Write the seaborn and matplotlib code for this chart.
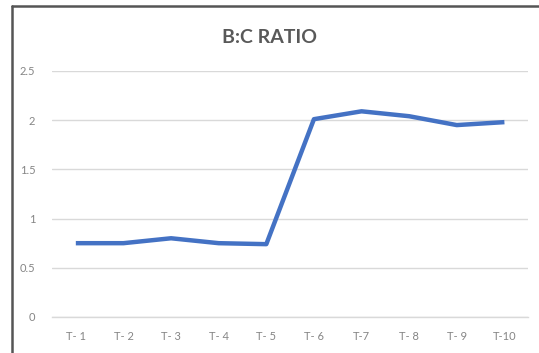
import matplotlib
matplotlib.use("Agg")
import matplotlib.pyplot as plt
import seaborn as sns
import pandas as pd
from matplotlib.lines import Line2D

# B:C ratio per trial
trials = ["T- 1", "T- 2", "T- 3", "T- 4", "T- 5", "T- 6", "T-7", "T- 8", "T- 9", "T-10"]
ratio = [0.75, 0.75, 0.80, 0.75, 0.74, 2.01, 2.09, 2.04, 1.95, 1.98]
y_ticks = [0, 0.5, 1, 1.5, 2, 2.5]
y_tick_labels = ["0", "0.5", "1", "1.5", "2", "2.5"]

df = pd.DataFrame({"trial": trials, "ratio": ratio})

sns.set_theme(style="white")
plt.rcParams["font.family"] = ["Lato", "DejaVu Sans"]

fig = plt.figure(figsize=(5.39, 3.53), dpi=100)
ax = fig.add_axes([0.0965, 0.102, 0.8835, 0.697])

ax.yaxis.grid(True, color="#d9d9d9", linewidth=1.0)
ax.set_axisbelow(True)

sns.lineplot(data=df, x="trial", y="ratio", sort=False, ax=ax,
             color="#4472C4", linewidth=3.2, solid_joinstyle="round",
             solid_capstyle="butt")

ax.set_ylim(0, 2.5)
ax.set_xlim(-0.5, len(trials) - 0.5)
ax.set_yticks(y_ticks)
ax.set_yticklabels(y_tick_labels)
ax.set_xlabel("")
ax.set_ylabel("")
for s in ["top", "right", "left"]:
    ax.spines[s].set_visible(False)
ax.spines["bottom"].set_color("#d9d9d9")
ax.spines["bottom"].set_linewidth(1.0)
ax.tick_params(axis="both", length=0, labelsize=8, labelcolor="#858585")
ax.tick_params(axis="y", pad=12)
ax.tick_params(axis="x", pad=10)

fig.text(0.5, 0.895, "B:C RATIO", ha="center", va="center",
         fontsize=14, fontweight="bold", color="#595959")

# chart frame (top and left edges)
fig.add_artist(Line2D([0.023, 0.023], [0.0, 0.982], transform=fig.transFigure,
                      color="#555555", linewidth=1.8))
fig.add_artist(Line2D([0.023, 1.0], [0.982, 0.982], transform=fig.transFigure,
                      color="#555555", linewidth=1.8))

fig.savefig("out.png", dpi=100, facecolor="white")
